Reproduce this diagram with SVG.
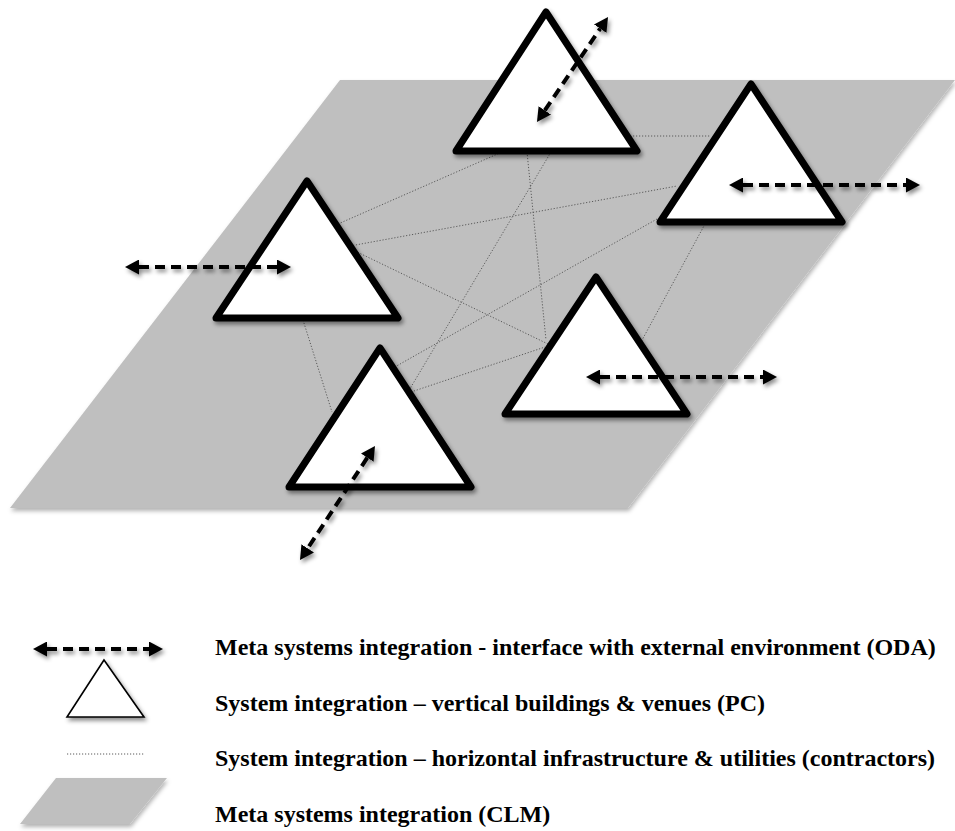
<svg xmlns="http://www.w3.org/2000/svg" width="955" height="831" viewBox="0 0 955 831">
  <style>
    .plane { fill: #bfbfbf; }
    .tri { fill: #ffffff; stroke: #000000; stroke-width: 7; stroke-linejoin: round; }
    .tri-legend { fill: #ffffff; stroke: #000000; stroke-width: 1.6; stroke-linejoin: miter; }
    .link { stroke: #5a5a5a; stroke-width: 1; stroke-dasharray: 1.2 1.8; fill: none; }
    .ext { stroke: #000000; stroke-width: 4; stroke-dasharray: 10 6; fill: none; marker-start: url(#ah); marker-end: url(#ah); }
    .lbl { font-family: "Liberation Serif", "Times New Roman", serif; font-weight: bold; font-size: 24px; fill: #000000; }
  </style>
  <defs>
    <filter id="shadow" x="-20%" y="-20%" width="140%" height="150%">
      <feDropShadow dx="2" dy="3" stdDeviation="2" flood-color="#000000" flood-opacity="0.45"/>
    </filter>
    <filter id="shadowLine" filterUnits="userSpaceOnUse" x="0" y="0" width="955" height="831">
      <feDropShadow dx="2" dy="3" stdDeviation="2" flood-color="#000000" flood-opacity="0.45"/>
    </filter>
    <filter id="shadowSoft" x="-10%" y="-10%" width="120%" height="130%">
      <feDropShadow dx="1" dy="3" stdDeviation="2" flood-color="#000000" flood-opacity="0.3"/>
    </filter>
    <marker id="ah" viewBox="0 0 14 15" markerWidth="14" markerHeight="15" markerUnits="userSpaceOnUse" refX="0" refY="7.5" orient="auto-start-reverse">
      <path d="M0,0 L14,7.5 L0,15 z" fill="#000000"/>
    </marker>
  </defs>

  <g id="plane" filter="url(#shadowSoft)">
    <polygon class="plane" points="340,80 955,80 628,508 10,508"/>
  </g>

  <g id="connectors">
    <line class="link" x1="630" y1="136" x2="710" y2="136"/>
    <line class="link" x1="338" y1="224" x2="502" y2="152"/>
    <line class="link" x1="350" y1="246" x2="677" y2="186"/>
    <line class="link" x1="355" y1="251" x2="548" y2="344"/>
    <line class="link" x1="303" y1="320" x2="332" y2="412"/>
    <line class="link" x1="527" y1="152" x2="546" y2="340"/>
    <line class="link" x1="551" y1="152" x2="408" y2="392"/>
    <line class="link" x1="657" y1="219" x2="393" y2="368"/>
    <line class="link" x1="705" y1="224" x2="641" y2="342"/>
    <line class="link" x1="411" y1="392" x2="545" y2="347"/>
  </g>

  <g id="node-top" filter="url(#shadow)">
    <polygon class="tri" points="546,12 637,151 456,151"/>
  </g>
  <g id="node-right" filter="url(#shadow)">
    <polygon class="tri" points="751,84 842,222 660,222"/>
  </g>
  <g id="node-left" filter="url(#shadow)">
    <polygon class="tri" points="307,181 398,318 216,318"/>
  </g>
  <g id="node-bottom-left" filter="url(#shadow)">
    <polygon class="tri" points="380,348 471,487 289,487"/>
  </g>
  <g id="node-bottom-right" filter="url(#shadow)">
    <polygon class="tri" points="596,277 687,414 505,414"/>
  </g>

  <g id="interfaces" filter="url(#shadowLine)">
    <line class="ext" x1="544.8" y1="110.4" x2="600.2" y2="28.6"/>
    <line class="ext" x1="743" y1="185" x2="906" y2="185"/>
    <line class="ext" x1="139" y1="267" x2="277" y2="267"/>
    <line class="ext" x1="367.3" y1="457.7" x2="307.7" y2="548.3"/>
    <line class="ext" x1="600" y1="377" x2="763" y2="377"/>
  </g>

  <g id="legend">
    <g id="legend-interface">
      <g filter="url(#shadowLine)">
        <line class="ext" x1="47" y1="649" x2="149" y2="649"/>
      </g>
      <text class="lbl" x="215" y="655">Meta systems integration - interface with external environment (ODA)</text>
    </g>
    <g id="legend-vertical">
      <polygon class="tri-legend" points="104,660 144,717 67,717" filter="url(#shadow)"/>
      <text class="lbl" x="215" y="711">System integration – vertical buildings &amp; venues (PC)</text>
    </g>
    <g id="legend-horizontal">
      <line class="link" x1="67" y1="754" x2="145" y2="754"/>
      <text class="lbl" x="215" y="766">System integration – horizontal infrastructure &amp; utilities (contractors)</text>
    </g>
    <g id="legend-meta">
      <polygon class="plane" points="56,778 167,778 130,824 20,824" filter="url(#shadowSoft)"/>
      <text class="lbl" x="215" y="822">Meta systems integration (CLM)</text>
    </g>
  </g>
</svg>
